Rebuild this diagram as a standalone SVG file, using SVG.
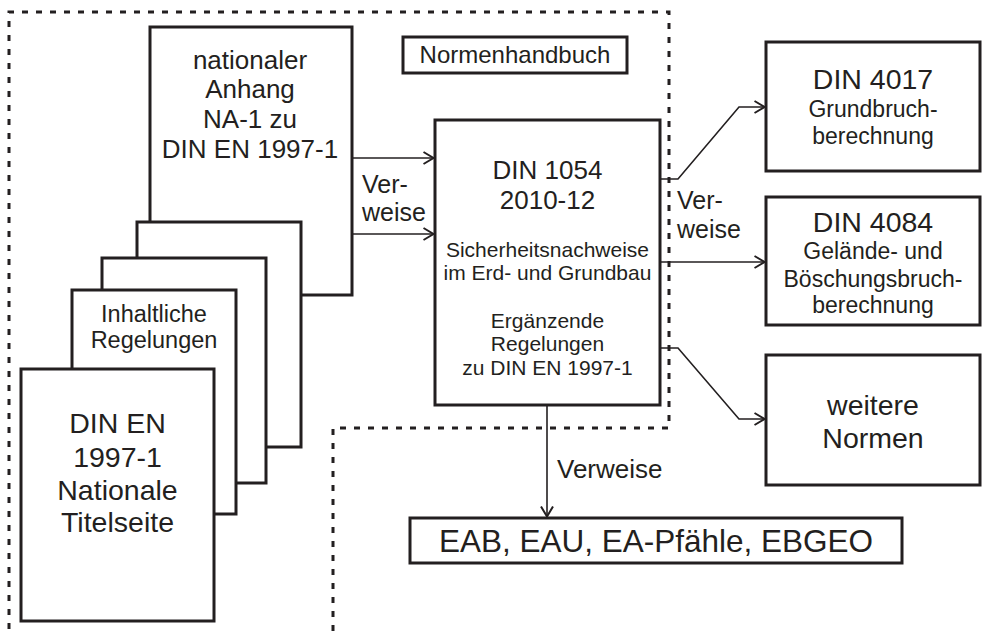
<svg xmlns="http://www.w3.org/2000/svg" width="982" height="631" viewBox="0 0 982 631">
<style>
  .box { fill: #fff; stroke: #231f20; stroke-width: 3; }
  .conn { fill: none; stroke: #231f20; stroke-width: 1.6; }
  .dash { fill: none; stroke: #231f20; stroke-width: 3; stroke-dasharray: 6 8; }
  text { font-family: "Liberation Sans", Arial, sans-serif; fill: #231f20; text-anchor: middle; }
  .l { text-anchor: start; }
</style>
<defs>
  <marker id="arr" markerUnits="userSpaceOnUse" markerWidth="14" markerHeight="16" refX="11" refY="7" orient="auto">
    <path d="M1,1 L11,7 L1,13" fill="none" stroke="#231f20" stroke-width="2"/>
  </marker>
</defs>
<rect width="982" height="631" fill="#fff"/>
<g id="boundary">
  <path class="dash" d="M333,631 L333,428 L669,428 L669,12 L9,12 L9,631"/>
</g>
<g id="connectors">
  <line class="conn" x1="352" y1="158" x2="433.5" y2="158" marker-end="url(#arr)"/>
  <line class="conn" x1="352" y1="234" x2="433.5" y2="234" marker-end="url(#arr)"/>
  <polyline class="conn" points="660,179 678,179 739,107 764.5,107" marker-end="url(#arr)"/>
  <line class="conn" x1="660" y1="262" x2="764.5" y2="262" marker-end="url(#arr)"/>
  <polyline class="conn" points="660,348 678,348 739,419 764.5,419" marker-end="url(#arr)"/>
  <line class="conn" x1="547" y1="405" x2="547" y2="516.5" marker-end="url(#arr)"/>
  <text class="l" x="362" y="193" font-size="25">Ver-</text>
  <text class="l" x="362" y="221" font-size="25">weise</text>
  <text class="l" x="677" y="209" font-size="25">Ver-</text>
  <text class="l" x="677" y="238" font-size="25">weise</text>
  <text class="l" x="557" y="478" font-size="26">Verweise</text>
</g>
<g id="nationaler-anhang">
  <rect class="box" x="150" y="27" width="202" height="268"/>
  <text x="250" y="69" font-size="26">nationaler</text>
  <text x="250" y="98" font-size="26">Anhang</text>
  <text x="250" y="128" font-size="26">NA-1 zu</text>
  <text x="250" y="158" font-size="26">DIN EN 1997-1</text>
</g>
<g id="sheet2"><rect class="box" x="137" y="222" width="164" height="225"/></g>
<g id="sheet3"><rect class="box" x="102" y="258" width="164" height="225"/></g>
<g id="inhaltliche-regelungen">
  <rect class="box" x="72" y="290" width="164" height="224"/>
  <text x="154" y="322" font-size="23.5">Inhaltliche</text>
  <text x="154" y="348" font-size="23.5">Regelungen</text>
</g>
<g id="din-en-1997-1">
  <rect class="box" x="21" y="369" width="193" height="252"/>
  <text x="117.5" y="433" font-size="28.5">DIN EN</text>
  <text x="117.5" y="467" font-size="28.5">1997-1</text>
  <text x="117.5" y="500" font-size="28.5">Nationale</text>
  <text x="117.5" y="532" font-size="28.5">Titelseite</text>
</g>
<g id="normenhandbuch">
  <rect class="box" x="403" y="37" width="224" height="36"/>
  <text x="515" y="63" font-size="24">Normenhandbuch</text>
</g>
<g id="din-1054">
  <rect class="box" x="435" y="120" width="225" height="285"/>
  <text x="547.5" y="179" font-size="26">DIN 1054</text>
  <text x="547.5" y="209" font-size="26">2010-12</text>
  <text x="547.5" y="257" font-size="21">Sicherheitsnachweise</text>
  <text x="547.5" y="280" font-size="21">im Erd- und Grundbau</text>
  <text x="547.5" y="328" font-size="21">Ergänzende</text>
  <text x="547.5" y="351" font-size="21">Regelungen</text>
  <text x="547.5" y="375" font-size="21">zu DIN EN 1997-1</text>
</g>
<g id="din-4017">
  <rect class="box" x="766" y="42" width="214" height="129"/>
  <text x="873" y="89" font-size="28.5">DIN 4017</text>
  <text x="873" y="117" font-size="23">Grundbruch-</text>
  <text x="873" y="144" font-size="23">berechnung</text>
</g>
<g id="din-4084">
  <rect class="box" x="766" y="197" width="214" height="128"/>
  <text x="873" y="232" font-size="28.5">DIN 4084</text>
  <text x="873" y="259" font-size="23">Gelände- und</text>
  <text x="873" y="287" font-size="23">Böschungsbruch-</text>
  <text x="873" y="313" font-size="23">berechnung</text>
</g>
<g id="weitere-normen">
  <rect class="box" x="766" y="355" width="214" height="130"/>
  <text x="873" y="415" font-size="28.5">weitere</text>
  <text x="873" y="448" font-size="28.5">Normen</text>
</g>
<g id="eab">
  <rect class="box" x="410" y="518" width="492" height="45"/>
  <text x="656" y="552" font-size="31.5">EAB, EAU, EA-Pfähle, EBGEO</text>
</g>
</svg>
